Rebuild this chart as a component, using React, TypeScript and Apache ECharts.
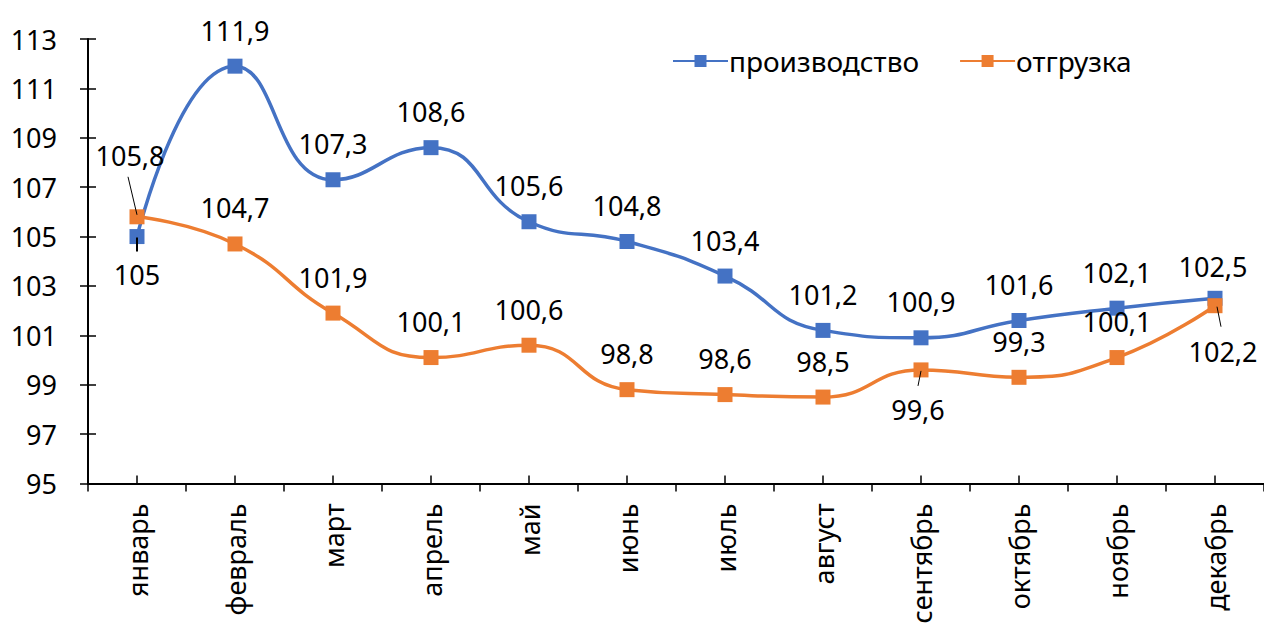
import React, { useEffect, useRef } from "react";
import * as echarts from "echarts";

const months = ["январь", "февраль", "март", "апрель", "май", "июнь", "июль", "август", "сентябрь", "октябрь", "ноябрь", "декабрь"];
const production = [105, 111.9, 107.3, 108.6, 105.6, 104.8, 103.4, 101.2, 100.9, 101.6, 102.1, 102.5];
const shipment = [105.8, 104.7, 101.9, 100.1, 100.6, 98.8, 98.6, 98.5, 99.6, 99.3, 100.1, 102.2];
const seriesNames = ["производство", "отгрузка"];
const yMin = 95;
const yMax = 113;
const yStep = 2;

const FONT = "Noto Sans";
const fmt = (v: number) => String(v).replace(".", ",");

export default function App() {
  const ref = useRef<HTMLDivElement>(null);
  useEffect(() => {
    if (!ref.current) return;
    const chart = echarts.init(ref.current, null, { renderer: "svg" });
    const baseLabel = {
      show: true,
      position: "top",
      distance: 15,
      color: "#000",
      fontFamily: FONT,
      fontSize: 27,
      formatter: (p: any) => fmt(p.value),
    };
    const prodData = production.map((v, i) => {
      if (i === 0) return { value: v, label: { position: "bottom", distance: 17 } };
      if (i === 11) return { value: v, label: { offset: [-2, 4] } };
      return v;
    });
    const shipData = shipment.map((v, i) => {
      if (i === 0) return { value: v, label: { offset: [-7, -25] } };
      if (i === 8) return { value: v, label: { position: "bottom", offset: [-3, 4] } };
      if (i === 11) return { value: v, label: { position: "bottom", offset: [8, 10] } };
      return v;
    });
    const axisTickStyle = { color: "#000", width: 1.5 };
    chart.setOption({
      animation: false,
      textStyle: { fontFamily: FONT },
      grid: { left: 88, top: 39, width: 1180, height: 444.5 },
      legend: {
        left: 667,
        top: 42,
        itemWidth: 55,
        itemHeight: 15,
        itemGap: 40,
        textStyle: { fontSize: 28, color: "#000", fontFamily: FONT, padding: [0, 0, 0, -4] },
        data: seriesNames,
      },
      xAxis: [
        {
          type: "category",
          data: months,
          position: "bottom",
          axisLine: { lineStyle: { color: "#000", width: 2 } },
          axisTick: { show: true, length: 8, lineStyle: axisTickStyle },
          axisLabel: { rotate: 90, margin: 20, color: "#000", fontSize: 27, fontFamily: FONT },
        },
        {
          type: "category",
          data: months,
          position: "bottom",
          axisLine: { show: false },
          axisTick: { show: true, inside: true, alignWithLabel: true, length: 8, lineStyle: axisTickStyle },
          axisLabel: { show: false },
        },
      ],
      yAxis: [
        {
          type: "value",
          min: yMin,
          max: yMax,
          interval: yStep,
          position: "left",
          splitLine: { show: false },
          axisLine: { show: true, lineStyle: { color: "#000", width: 2 } },
          axisTick: { show: true, length: 8, lineStyle: axisTickStyle },
          axisLabel: { margin: 31, color: "#000", fontSize: 27, fontFamily: FONT },
        },
        {
          type: "value",
          min: yMin,
          max: yMax,
          interval: yStep,
          position: "left",
          splitLine: { show: false },
          axisLine: { show: false },
          axisTick: { show: true, inside: true, length: 8, lineStyle: axisTickStyle },
          axisLabel: { show: false },
        },
      ],
      series: [
        {
          name: seriesNames[0],
          type: "line",
          smooth: 0.5,
          data: prodData,
          symbol: "rect",
          symbolSize: 15,
          itemStyle: { color: "#4472C4" },
          lineStyle: { color: "#4472C4", width: 3.5 },
          label: baseLabel,
          z: 3,
        },
        {
          name: seriesNames[1],
          type: "line",
          smooth: 0.5,
          data: shipData,
          symbol: "rect",
          symbolSize: 15,
          itemStyle: { color: "#ED7D31" },
          lineStyle: { color: "#ED7D31", width: 3.5 },
          label: baseLabel,
          z: 4,
        },
      ],
    });

    const px = (s: number, i: number, v: number) =>
      chart.convertToPixel({ seriesIndex: s }, [i, v]) as number[];
    const leader = (s: number, i: number, v: number, a: number[], b: number[], w = 1) => {
      const p = px(s, i, v);
      return {
        type: "line",
        z: 100,
        shape: { x1: p[0] + a[0], y1: p[1] + a[1], x2: p[0] + b[0], y2: p[1] + b[1] },
        style: { stroke: "#000", lineWidth: w },
      };
    };
    chart.setOption({
      graphic: [
        leader(1, 0, shipment[0], [-9, -40], [0, -2]),
        leader(0, 0, production[0], [0, 1], [0, 15], 2),
        leader(1, 8, shipment[8], [0, 1], [-3, 16]),
        leader(1, 11, shipment[11], [2, 1], [6, 21]),
      ],
    });

    return () => chart.dispose();
  }, []);
  return <div ref={ref} style={{ width: 1264, height: 631, position: "absolute", left: 0, top: 0 }} />;
}
